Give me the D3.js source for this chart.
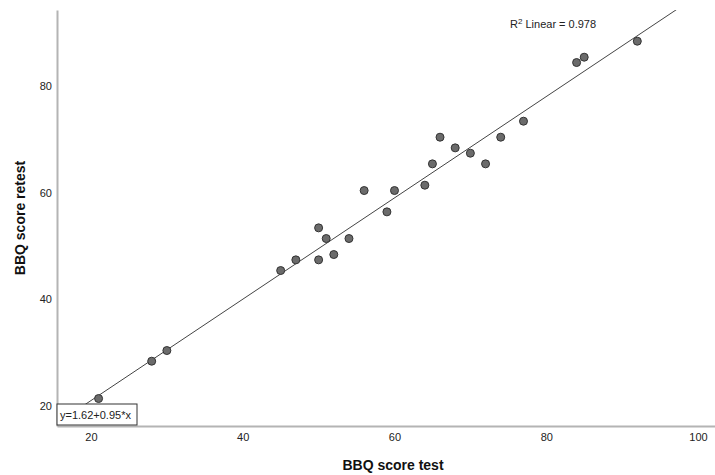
<!DOCTYPE html>
<html>
<head>
<meta charset="utf-8">
<script src="https://cdn.jsdelivr.net/npm/d3@7"></script>
<style>
  body { margin: 0; background: #fff; }
  text { font-family: "Liberation Sans", Arial, sans-serif; }
</style>
</head>
<body>
<div id="chart"></div>
<script>
// BBQ scores, test vs retest
const testScores   = [21, 28, 30, 45, 47, 50, 50, 51, 52, 54, 56, 59, 60, 64, 65, 66, 68, 70, 72, 74, 77, 84, 85, 92];
const retestScores = [21, 28, 30, 45, 47, 53, 47, 51, 48, 51, 60, 56, 60, 61, 65, 70, 68, 67, 65, 70, 73, 84, 85, 88];
const xTicks = [20, 40, 60, 80, 100];
const yTicks = [20, 40, 60, 80];
const fitIntercept = 1.62;
const fitSlope = 0.95;
const rSquared = '0.978';

// plot area edges (note: "top" is taken by window.top)
var W = 715, H = 475;
var plotL = 57, plotR = 715, plotT = 10, plotB = 426;

var svg = d3.select('#chart').append('svg')
  .attr('width', W).attr('height', H);

var x = d3.scaleLinear().domain([15.52, 102.24]).range([plotL, plotR]);
var y = d3.scaleLinear().domain([15.85, 93.85]).range([plotB, plotT]);

// axes (no tick marks, just labels)
var xAxis = svg.append('g').attr('transform', 'translate(0,' + plotB + ')')
  .call(d3.axisBottom(x).tickValues(xTicks).tickSize(0).tickPadding(7));
var yAxis = svg.append('g').attr('transform', 'translate(' + plotL + ',0)')
  .call(d3.axisLeft(y).tickValues(yTicks).tickSize(0).tickPadding(5));
[xAxis, yAxis].forEach(function(a) {
  a.select('.domain').attr('stroke', '#b4b4b4').attr('stroke-width', 2);
  a.selectAll('text').attr('font-size', 11).attr('fill', '#222')
    .attr('font-family', '"Liberation Sans", Arial, sans-serif');
});
// SPSS puts the labels a touch below the gridline value
yAxis.selectAll('.tick text').attr('transform', 'translate(0,2)');

svg.append('clipPath').attr('id', 'plot')
  .append('rect').attr('x', plotL).attr('y', plotT)
  .attr('width', plotR - plotL).attr('height', plotB - plotT);

// fit line
var xs = x.domain();
svg.append('line')
  .attr('clip-path', 'url(#plot)')
  .attr('x1', x(xs[0])).attr('y1', y(fitIntercept + fitSlope * xs[0]))
  .attr('x2', x(xs[1])).attr('y2', y(fitIntercept + fitSlope * xs[1]))
  .attr('stroke', '#444').attr('stroke-width', 1);

// points
svg.append('g').selectAll('circle')
  .data(testScores)
  .join('circle')
  .attr('cx', function(d) { return x(d); })
  .attr('cy', function(d, i) { return y(retestScores[i]); })
  .attr('r', 4)
  .attr('fill', '#6b6b6b')
  .attr('stroke', '#333')
  .attr('stroke-width', 1);

// equation box
var eq = svg.append('g');
eq.append('rect').attr('x', plotL).attr('y', 404).attr('width', 80).attr('height', 21)
  .attr('fill', '#fff').attr('stroke', '#333').attr('stroke-width', 1);
eq.append('text').attr('x', plotL + 3).attr('y', 419)
  .attr('font-size', 11).attr('fill', '#222')
  .text('y=' + fitIntercept + '+' + fitSlope + '*x');

// R squared label
var r2 = svg.append('text').attr('x', 510).attr('y', 28)
  .attr('font-size', 11).attr('fill', '#222');
r2.append('tspan').text('R');
r2.append('tspan').attr('dy', -4).attr('font-size', 8).text('2');
r2.append('tspan').attr('dy', 4).text(' Linear = ' + rSquared);

// axis titles
svg.append('text').attr('x', 393).attr('y', 470)
  .attr('text-anchor', 'middle').attr('font-size', 14).attr('font-weight', 'bold')
  .attr('fill', '#111').text('BBQ score test');
svg.append('text')
  .attr('transform', 'translate(25,218) rotate(-90)')
  .attr('text-anchor', 'middle').attr('font-size', 14).attr('font-weight', 'bold')
  .attr('fill', '#111').text('BBQ score retest');
</script>
</body>
</html>
